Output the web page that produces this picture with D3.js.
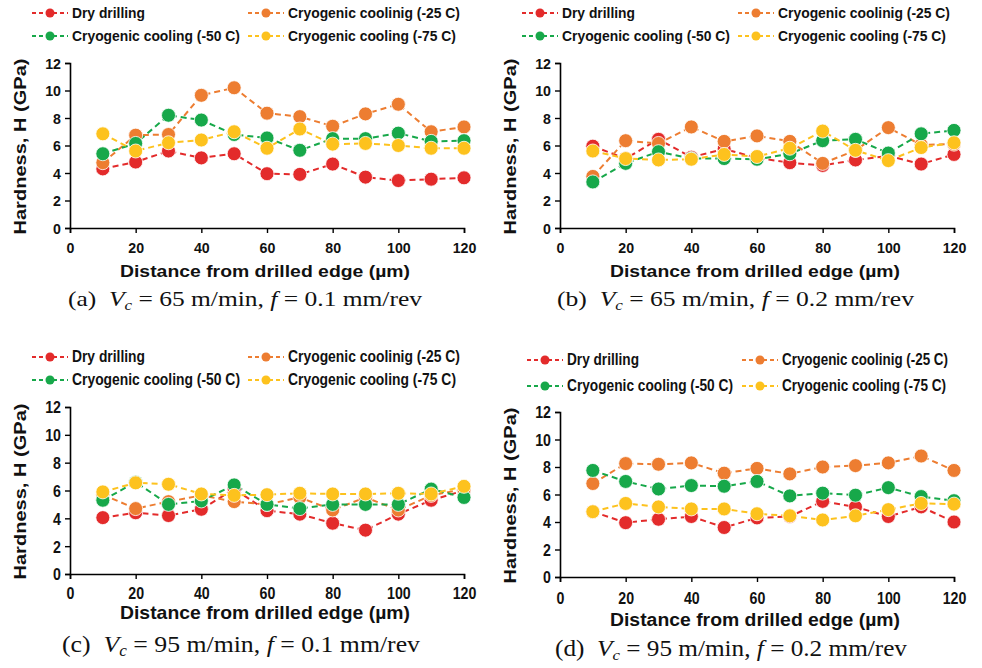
<!DOCTYPE html>
<html>
<head>
<meta charset="utf-8">
<script src="https://cdn.jsdelivr.net/npm/d3@7"></script>
<style>
html,body{margin:0;padding:0;background:#fff;}
svg{display:block;}
</style>
</head>
<body>
<svg id="chart" width="982" height="668"></svg>
<script>
// ---------- DATA ----------
const distances = [10, 20, 30, 40, 50, 60, 70, 80, 90, 100, 110, 120];
const xTicks = [0, 20, 40, 60, 80, 100, 120];
const yTicks = [0, 2, 4, 6, 8, 10, 12];
const seriesNames = ["Dry drilling", "Cryogenic coolinig (-25 C)", "Cryogenic cooling (-50 C)", "Cryogenic cooling (-75 C)"];
const seriesColors = ["#E32B2B", "#ED7D31", "#17A84A", "#FDC21E"];

// (a) Vc = 65 m/min, f = 0.1 mm/rev
const a_dry   = [4.3, 4.8, 5.6, 5.1, 5.4, 3.95, 3.9, 4.65, 3.7, 3.45, 3.55, 3.65];
const a_m25   = [4.75, 6.75, 6.8, 9.65, 10.2, 8.35, 8.1, 7.4, 8.3, 9.0, 7.0, 7.35];
const a_m50   = [5.4, 6.15, 8.2, 7.85, 6.8, 6.55, 5.65, 6.5, 6.5, 6.9, 6.3, 6.35];
const a_m75   = [6.85, 5.6, 6.2, 6.4, 7.0, 5.8, 7.2, 6.1, 6.15, 6.0, 5.8, 5.8];
// (b) Vc = 65 m/min, f = 0.2 mm/rev
const b_dry   = [5.95, 5.05, 6.45, 5.15, 5.75, 5.1, 4.75, 4.55, 4.95, 5.25, 4.65, 5.35];
const b_m25   = [3.75, 6.35, 6.15, 7.35, 6.3, 6.7, 6.3, 4.7, 5.65, 7.3, 6.05, 6.1];
const b_m50   = [3.35, 4.7, 5.55, 5.05, 5.05, 5.0, 5.4, 6.35, 6.45, 5.45, 6.85, 7.1];
const b_m75   = [5.6, 5.05, 4.95, 5.0, 5.35, 5.2, 5.8, 7.05, 5.65, 4.9, 5.85, 6.2];
// (c) Vc = 95 m/min, f = 0.1 mm/rev
const c_dry   = [4.05, 4.4, 4.2, 4.65, 6.1, 4.55, 4.3, 3.65, 3.15, 4.3, 5.3, 6.0];
const c_m25   = [5.7, 4.7, 5.2, 5.65, 5.2, 5.0, 5.5, 4.6, 5.5, 4.6, 5.65, 6.1];
const c_m50   = [5.3, 6.6, 5.0, 5.25, 6.4, 5.0, 4.7, 5.0, 5.0, 5.0, 6.1, 5.5];
const c_m75   = [5.9, 6.55, 6.45, 5.75, 5.65, 5.7, 5.8, 5.75, 5.75, 5.8, 5.75, 6.3];
// (d) Vc = 95 m/min, f = 0.2 mm/rev
const d_dry   = [4.75, 3.95, 4.2, 4.4, 3.6, 4.3, 4.4, 5.5, 5.1, 4.4, 5.1, 4.0];
const d_m25   = [6.8, 8.25, 8.2, 8.3, 7.55, 7.9, 7.5, 8.0, 8.1, 8.3, 8.8, 7.75];
const d_m50   = [7.75, 6.95, 6.4, 6.65, 6.6, 6.95, 5.9, 6.1, 5.95, 6.5, 5.85, 5.55];
const d_m75   = [4.75, 5.35, 5.1, 4.95, 4.95, 4.6, 4.45, 4.15, 4.45, 4.9, 5.35, 5.3];

const captionLetters = ["(a)", "(b)", "(c)", "(d)"];
const captionSpeeds = ["65", "65", "95", "95"];
const captionFeeds = ["0.1", "0.2", "0.1", "0.2"];
const yTitle = "Hardness, H (GPa)";
const xTitle = "Distance from drilled edge (µm)";

const panelSeries = [
  [a_dry, a_m25, a_m50, a_m75],
  [b_dry, b_m25, b_m50, b_m75],
  [c_dry, c_m25, c_m50, c_m75],
  [d_dry, d_m25, d_m50, d_m75]
];

// ---------- LAYOUT ----------
const layouts = [
  {x0: 70,  x1: 464, y0: 228, y1: 63,  leg: {r1: 13, r2: 36, c1: 32, c2: 248},  legW: [73, 172, 168, 168], tickY: 248, titleY: 277, capY: 306, capX: 68,  capW: 354, yTitleX: 26,  fs: 1},
  {x0: 560, x1: 954, y0: 228, y1: 63,  leg: {r1: 13, r2: 36, c1: 522, c2: 738}, legW: [73, 172, 168, 168], tickY: 248, titleY: 277, capY: 306, capX: 557, capW: 357, yTitleX: 516, fs: 1},
  {x0: 70,  x1: 464, y0: 574, y1: 407, leg: {r1: 357, r2: 380, c1: 32, c2: 248}, legW: [73, 172, 168, 168], tickY: 594, titleY: 619, capY: 652, capX: 62,  capW: 358, yTitleX: 26,  fs: 1.12},
  {x0: 560, x1: 954, y0: 577, y1: 412, leg: {r1: 360, r2: 386, c1: 527, c2: 742}, legW: [72, 166, 166, 164], tickY: 599, titleY: 626, capY: 656, capX: 555, capW: 352, yTitleX: 516, fs: 1.1}
];

const svg = d3.select("#chart");
const SANS = "'Liberation Sans', Arial, sans-serif";
const SERIF = "'Liberation Serif', 'Times New Roman', serif";

panelSeries.forEach((series, pi) => {
  const L = layouts[pi];
  const g = svg.append("g");
  const x = d3.scaleLinear().domain([0, 120]).range([L.x0, L.x1]);
  const y = d3.scaleLinear().domain([0, 12]).range([L.y0, L.y1]);

  // Axes
  const yAxis = d3.axisLeft(y).tickValues(yTicks).tickSize(5).tickFormat(d3.format("d"));
  const xAxis = d3.axisBottom(x).tickValues(xTicks).tickSize(5).tickFormat(d3.format("d"));
  const ya = g.append("g").attr("transform", `translate(${L.x0},0)`).call(yAxis);
  const xa = g.append("g").attr("transform", `translate(0,${L.y0})`).call(xAxis);
  [ya, xa].forEach(a => {
    a.select(".domain").attr("stroke", "#000").attr("stroke-width", 1.6);
    a.selectAll(".tick line").attr("stroke", "#000").attr("stroke-width", 1.4);
    a.selectAll("text").attr("fill", "#111").attr("font-family", SANS)
      .attr("font-weight", "bold").attr("font-size", 14.5 * L.fs)
      .each(function(d) {
        const n = String(d).length;
        d3.select(this).attr("textLength", n * 7.9).attr("lengthAdjust", "spacingAndGlyphs");
      });
  });
  ya.selectAll("text").attr("x", -9).attr("dy", "0.36em");
  xa.selectAll("text").attr("dy", null).attr("y", L.tickY - L.y0 + 5);

  // Axis titles
  g.append("text")
    .attr("x", (L.x0 + L.x1) / 2 - 2).attr("y", L.titleY)
    .attr("text-anchor", "middle").attr("font-family", SANS).attr("font-weight", "bold")
    .attr("font-size", 17 * L.fs).attr("fill", "#111")
    .attr("textLength", 290).attr("lengthAdjust", "spacingAndGlyphs")
    .text(xTitle);
  g.append("text")
    .attr("transform", `translate(${L.yTitleX},${(L.y0 + L.y1) / 2 + 1}) rotate(-90)`)
    .attr("text-anchor", "middle").attr("font-family", SANS).attr("font-weight", "bold")
    .attr("font-size", 17).attr("fill", "#111")
    .attr("textLength", 176).attr("lengthAdjust", "spacingAndGlyphs")
    .text(yTitle);

  // Series
  const line = d3.line().x((d, i) => x(distances[i])).y(d => y(d));
  series.forEach((vals, si) => {
    g.append("path").datum(vals)
      .attr("d", line).attr("fill", "none")
      .attr("stroke", seriesColors[si]).attr("stroke-width", 2)
      .attr("stroke-dasharray", "6,4");
  });
  series.forEach((vals, si) => {
    g.selectAll(null).data(vals).enter().append("circle")
      .attr("cx", (d, i) => x(distances[i])).attr("cy", d => y(d))
      .attr("r", 7).attr("fill", seriesColors[si])
      .attr("stroke", "#fff").attr("stroke-width", 0.8);
  });

  // Legend
  const legPos = [
    {lx: L.leg.c1, ly: L.leg.r1},
    {lx: L.leg.c2, ly: L.leg.r1},
    {lx: L.leg.c1, ly: L.leg.r2},
    {lx: L.leg.c2, ly: L.leg.r2}
  ];
  seriesNames.forEach((name, si) => {
    const p = legPos[si];
    g.append("line")
      .attr("x1", p.lx).attr("x2", p.lx + 36).attr("y1", p.ly).attr("y2", p.ly)
      .attr("stroke", seriesColors[si]).attr("stroke-width", 2).attr("stroke-dasharray", "4,3");
    g.append("circle").attr("cx", p.lx + 18).attr("cy", p.ly).attr("r", 4.5)
      .attr("fill", seriesColors[si]);
    g.append("text").attr("x", p.lx + 40).attr("y", p.ly + 5)
      .attr("font-family", SANS).attr("font-weight", "bold").attr("font-size", 14.5 * L.fs)
      .attr("fill", "#111")
      .attr("textLength", L.legW[si]).attr("lengthAdjust", "spacingAndGlyphs")
      .text(name);
  });

  // Caption
  const cap = g.append("text").attr("x", L.capX).attr("y", L.capY)
    .attr("font-family", SERIF).attr("font-size", 21 * L.fs).attr("fill", "#111")
    .attr("textLength", L.capW).attr("lengthAdjust", "spacingAndGlyphs");
  cap.append("tspan").text(captionLetters[pi] + "\u00A0\u00A0");
  cap.append("tspan").attr("font-style", "italic").text("V");
  cap.append("tspan").attr("font-style", "italic").attr("font-size", 14 * L.fs).attr("dy", 4).text("c");
  cap.append("tspan").attr("dy", -4).text(" = " + captionSpeeds[pi] + " m/min, ");
  cap.append("tspan").attr("font-style", "italic").text("f");
  cap.append("tspan").text(" = " + captionFeeds[pi] + " mm/rev");
});
</script>
</body>
</html>
